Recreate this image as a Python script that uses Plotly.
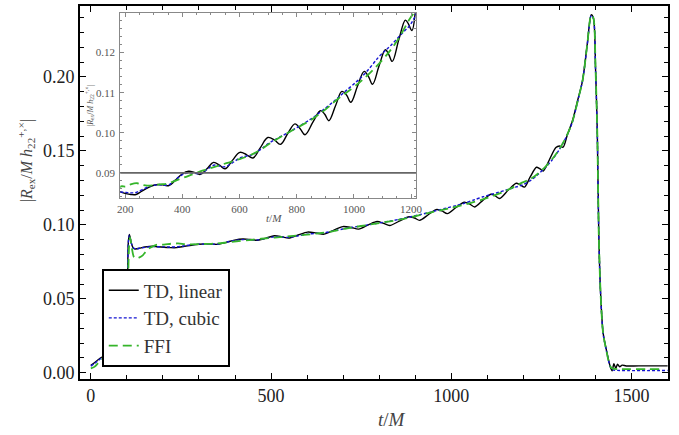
import plotly.graph_objects as go

# Waveform amplitude |R_ex/M h_22| versus retarded time t/M for three extraction methods.

# TD, linear
t_lin = [0, 10, 20, 30, 45, 70, 95, 100, 102, 104, 107, 112, 118, 125, 135, 150, 170, 185,
         203, 220, 238, 260, 284, 300, 319, 338, 353, 375, 399, 422, 442, 463, 486, 509, 530,
         549, 575, 601, 625, 647, 673, 699, 722, 743, 770, 794, 812, 829, 857, 883, 898, 912,
         936, 958, 974, 989, 1013, 1036, 1051, 1065, 1088, 1110, 1122, 1134, 1158, 1180, 1190,
         1203, 1218, 1236, 1246, 1255, 1272, 1290, 1300, 1310, 1322, 1336, 1350, 1364, 1377,
         1388, 1394, 1400, 1405, 1409, 1414, 1421, 1430, 1441, 1446, 1451, 1456, 1461, 1467,
         1474, 1485, 1520, 1600]
h_lin = [0.0050, 0.0068, 0.0088, 0.0105, 0.0118, 0.0124, 0.0128, 0.0135, 0.0580, 0.0880,
         0.0935, 0.0880, 0.0842, 0.0837, 0.0842, 0.0850, 0.0856, 0.0852,
         0.0848, 0.0846, 0.0846, 0.0855, 0.0864, 0.0869, 0.0871, 0.0869, 0.0868, 0.0881,
         0.0897, 0.0904, 0.0901, 0.0896, 0.0910, 0.0926, 0.0919,
         0.0910, 0.0931, 0.0951, 0.0945, 0.0937, 0.0963, 0.0988, 0.0982, 0.0971, 0.1000,
         0.1022, 0.1010, 0.0995, 0.1027, 0.1055, 0.1046, 0.1030,
         0.1068, 0.1103, 0.1094, 0.1076, 0.1117, 0.1153, 0.1140, 0.1121, 0.1167, 0.1207,
         0.1195, 0.1178, 0.1235, 0.1281, 0.1272,
         0.1255, 0.1320, 0.1389, 0.1378, 0.1364, 0.1440, 0.1522, 0.1533, 0.1525, 0.1610,
         0.1703, 0.1837, 0.1975, 0.2220,
         0.2420, 0.2400, 0.2060, 0.1610, 0.0940, 0.0540, 0.0270, 0.0155, 0.0040, 0.0013,
         0.0062, 0.0030, 0.0058, 0.0040,
         0.0052, 0.0046, 0.0047, 0.0047]

# TD, cubic
t_cub = [0, 10, 20, 30, 45, 70, 95, 100, 102, 104, 107, 112, 118, 125, 135, 150, 170, 185,
         203, 220, 238, 260, 284, 300, 319, 338, 353, 375, 399, 422, 442, 463, 486, 509, 530,
         549, 575, 601, 625, 647, 673, 699, 722, 743, 770, 794, 829, 857, 883, 912, 936, 958,
         989, 1013, 1036, 1065, 1088, 1110, 1125, 1158, 1180, 1196, 1220, 1240, 1260, 1280,
         1300, 1320, 1336, 1350, 1364, 1377, 1388, 1394, 1400, 1405, 1409, 1414, 1421, 1430,
         1441, 1448, 1460, 1600]
h_cub = [0.0045, 0.0062, 0.0082, 0.0100, 0.0115, 0.0122, 0.0126, 0.0135, 0.0580, 0.0880,
         0.0930, 0.0880, 0.0843, 0.0838, 0.0842, 0.0848, 0.0853, 0.0852,
         0.0851, 0.0850, 0.0851, 0.0858, 0.0866, 0.0869, 0.0870, 0.0869, 0.0870, 0.0882,
         0.0895, 0.0900, 0.0899, 0.0898, 0.0908, 0.0919, 0.0917,
         0.0915, 0.0925, 0.0937, 0.0942, 0.0946, 0.0958, 0.0972, 0.0982, 0.0990, 0.1000,
         0.1010, 0.1025, 0.1038, 0.1052, 0.1068, 0.1082, 0.1096,
         0.1115, 0.1130, 0.1146, 0.1170, 0.1190, 0.1205, 0.1215, 0.1240, 0.1256, 0.1268,
         0.1300, 0.1340, 0.1385, 0.1440,
         0.1510, 0.1600, 0.1695, 0.1830, 0.1975, 0.2215, 0.2415, 0.2395, 0.2050, 0.1600,
         0.0935, 0.0535, 0.0265, 0.0150,
         0.0040, 0.0020, 0.0016, 0.0016]

# FFI
t_ffi = [0, 10, 20, 30, 45, 70, 95, 100, 103, 106, 109, 114, 120, 126, 135, 144, 153, 162,
         175, 185, 203, 222, 242, 260, 277, 300, 320, 346, 375, 404, 440, 473, 510, 554, 600,
         634, 670, 703, 750, 800, 850, 900, 950, 1000, 1050, 1100, 1150, 1196, 1220, 1240,
         1260, 1280, 1300, 1320, 1336, 1350, 1364, 1377, 1388, 1394, 1400, 1405, 1409, 1414,
         1421, 1430, 1441, 1448, 1470, 1580]
h_ffi = [0.0030, 0.0040, 0.0065, 0.0090, 0.0110, 0.0120, 0.0125, 0.0130, 0.0550, 0.0850,
         0.0915, 0.0840, 0.0780, 0.0774, 0.0780, 0.0794, 0.0820, 0.0841,
         0.0858, 0.0866, 0.0866, 0.0872, 0.0874, 0.0870, 0.0868, 0.0869, 0.0871, 0.0873,
         0.0880, 0.0888, 0.0897, 0.0906, 0.0914, 0.0924, 0.0934,
         0.0943, 0.0956, 0.0972, 0.0992, 0.1012, 0.1032, 0.1058, 0.1088, 0.1114, 0.1145,
         0.1182, 0.1228, 0.1285, 0.1310, 0.1345,
         0.1390, 0.1445, 0.1512, 0.1602, 0.1698, 0.1832, 0.1975, 0.2218, 0.2418, 0.2398,
         0.2055, 0.1605, 0.0938, 0.0538,
         0.0268, 0.0152, 0.0042, 0.0028, 0.0025, 0.0025]

series = [
    ("TD, linear", t_lin, h_lin, dict(color="#000000", width=1.4, dash="solid")),
    ("TD, cubic", t_cub, h_cub, dict(color="#1414d2", width=1.4, dash="3px,2px")),
    ("FFI", t_ffi, h_ffi, dict(color="#35b52a", width=1.8, dash="9px,5px")),
]

SERIF = "Liberation Serif, Times New Roman, serif"
YLABEL = "|<i>R</i><sub>ex</sub>/<i>M</i> <i>h</i><sub>22</sub><sup>+,×</sup>|"

fig = go.Figure()
for name, t, h, ln in series:
    fig.add_trace(go.Scatter(x=t, y=h, name=name, mode="lines",
                             line=dict(shape="spline", smoothing=0.8, **ln),
                             xaxis="x", yaxis="y"))
for name, t, h, ln in series:
    fig.add_trace(go.Scatter(x=t, y=h, name=name, mode="lines", showlegend=False,
                             line=dict(shape="spline", smoothing=1.1, **ln),
                             xaxis="x2", yaxis="y2"))

frame = dict(showline=True, mirror="ticks", linecolor="#000", linewidth=1.6,
             ticks="inside", tickcolor="#000", ticklen=6, showgrid=False, zeroline=False)

fig.update_layout(
    width=679, height=435,
    margin=dict(l=80, r=4, t=5, b=56),
    paper_bgcolor="white", plot_bgcolor="white",
    font=dict(family=SERIF, size=18, color="#222"),
    xaxis=dict(domain=[0, 1], range=[-30, 1601], tickvals=[0, 500, 1000, 1500],
               minor=dict(dtick=100, tick0=0, ticks="inside", ticklen=4, tickcolor="#000", showgrid=False),
               tickfont=dict(family=SERIF, size=18, color="#222"), **frame),
    yaxis=dict(domain=[0, 1], range=[-0.0042, 0.2479], dtick=0.05, tick0=0, tickformat=".2f",
               minor=dict(dtick=0.01, tick0=0, ticks="inside", ticklen=4, tickcolor="#000", showgrid=False),
               tickfont=dict(family=SERIF, size=18, color="#222"), **frame),
    xaxis2=dict(domain=[0.0684, 0.5714], anchor="y2", range=[182.7, 1217], dtick=200, tick0=200,
                showline=True, mirror="ticks", linecolor="#888", linewidth=1.2,
                ticks="inside", tickcolor="#888", ticklen=4, showgrid=False, zeroline=False,
                minor=dict(dtick=50, ticks="inside", ticklen=2, tickcolor="#888", showgrid=False),
                tickfont=dict(family=SERIF, size=11, color="#555")),
    yaxis2=dict(domain=[0.484, 0.9805], anchor="x2", range=[0.0836, 0.1298], dtick=0.01, tick0=0.09,
                tickformat=".2f",
                showline=True, mirror="ticks", linecolor="#888", linewidth=1.2,
                ticks="inside", tickcolor="#888", ticklen=4, showgrid=False, zeroline=False,
                minor=dict(dtick=0.002, ticks="inside", ticklen=2, tickcolor="#888", showgrid=False),
                tickfont=dict(family=SERIF, size=11, color="#555"), ticklabelstandoff=2),
    legend=dict(x=0.037, y=0.294, xanchor="left", yanchor="top",
                bgcolor="white", bordercolor="#000", borderwidth=2,
                font=dict(family=SERIF, size=19, color="#333"), tracegroupgap=0),
    showlegend=True,
)

# reference level inside the inset
fig.add_shape(type="line", xref="x2 domain", yref="y2", x0=0, x1=1, y0=0.09, y1=0.09,
              line=dict(color="#666", width=1.8))

fig.add_annotation(text=YLABEL, textangle=-90, xref="paper", yref="paper", x=-0.0924, y=0.5856,
                   xanchor="center", yanchor="middle",
                   showarrow=False, font=dict(family=SERIF, size=16, color="#444"))
fig.add_annotation(text="<i>t</i>/<i>M</i>", xref="paper", yref="paper", x=0.5305, y=-0.1087,
                   xanchor="center", yanchor="middle",
                   showarrow=False, font=dict(family=SERIF, size=19, color="#444"))
fig.add_annotation(text=YLABEL, textangle=-90, xref="paper", yref="paper", x=0.0168, y=0.733,
                   xanchor="center", yanchor="middle",
                   showarrow=False, font=dict(family=SERIF, size=8, color="#555"))
fig.add_annotation(text="<i>t</i>/<i>M</i>", xref="paper", yref="paper", x=0.3306, y=0.4305,
                   xanchor="center", yanchor="middle",
                   showarrow=False, font=dict(family=SERIF, size=11, color="#555"))

fig.write_html("out.html")
